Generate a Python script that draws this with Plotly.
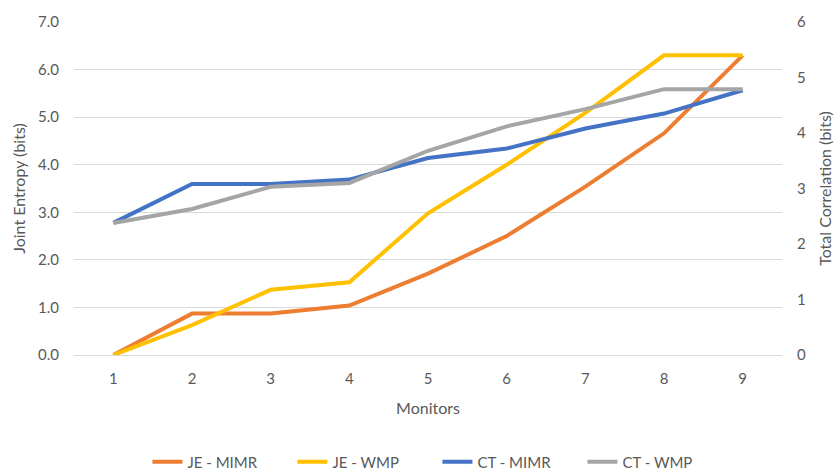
import plotly.graph_objects as go

monitors = [1, 2, 3, 4, 5, 6, 7, 8, 9]
je_mimr = [0.0, 0.87, 0.87, 1.04, 1.71, 2.5, 3.54, 4.66, 6.3]
je_wmp = [0.0, 0.63, 1.37, 1.53, 2.98, 4.0, 5.09, 6.3, 6.3]
ct_mimr = [2.38, 3.08, 3.08, 3.16, 3.55, 3.72, 4.08, 4.35, 4.77]
ct_wmp = [2.38, 2.63, 3.03, 3.1, 3.68, 4.12, 4.43, 4.79, 4.79]

left_ticks = [0, 1, 2, 3, 4, 5, 6, 7]
left_labels = ["0.0", "1.0", "2.0", "3.0", "4.0", "5.0", "6.0", "7.0"]
right_ticks = [0, 1, 2, 3, 4, 5, 6]

FONT = "Lato"
TXT = "#595959"
LW = 4

fig = go.Figure()
fig.add_trace(go.Scatter(x=monitors, y=je_mimr, name="JE - MIMR", mode="lines",
                         line=dict(color="#ED7D31", width=LW)))
fig.add_trace(go.Scatter(x=monitors, y=je_wmp, name="JE - WMP", mode="lines",
                         line=dict(color="#FFC000", width=LW)))
fig.add_trace(go.Scatter(x=monitors, y=ct_mimr, name="CT - MIMR", mode="lines",
                         line=dict(color="#4472C4", width=LW), yaxis="y2"))
fig.add_trace(go.Scatter(x=monitors, y=ct_wmp, name="CT - WMP", mode="lines",
                         line=dict(color="#A5A5A5", width=LW), yaxis="y2"))

fig.update_layout(
    width=838, height=470,
    margin=dict(l=74, r=56, t=22, b=115, autoexpand=False),
    paper_bgcolor="white", plot_bgcolor="white",
    font=dict(family=FONT, size=15, color=TXT),
    xaxis=dict(range=[0.5, 9.5], tickvals=monitors, showgrid=False,
               showline=True, linecolor="#D9D9D9", linewidth=1, ticks="",
               title=dict(text="Monitors", font=dict(size=16, color=TXT), standoff=16),
               zeroline=False, automargin=False, ticklabelstandoff=10),
    yaxis=dict(range=[0, 7], tickvals=left_ticks, ticktext=left_labels,
               showgrid=True, gridcolor="#D9D9D9", gridwidth=1, zeroline=False,
               title=dict(text="Joint Entropy (bits)", font=dict(size=16, color=TXT), standoff=8),
               ticks="", ticklabelstandoff=14, automargin=False),
    yaxis2=dict(range=[0, 6], tickvals=right_ticks, overlaying="y", side="right",
                showgrid=False, zeroline=False, ticks="",
                title=dict(text="Total Correlation (bits)", font=dict(size=16, color=TXT), standoff=14),
                ticklabelstandoff=14, automargin=False),
    legend=dict(orientation="h", x=0.522, xref="container", xanchor="center",
                y=0.017, yref="container", yanchor="middle",
                font=dict(size=15, color=TXT), itemwidth=30, traceorder="normal",
                entrywidth=100, entrywidthmode="pixels"),
    showlegend=True,
)

fig.write_html("out.html", config={"displayModeBar": False},
               post_script="document.body.style.margin='0';")
